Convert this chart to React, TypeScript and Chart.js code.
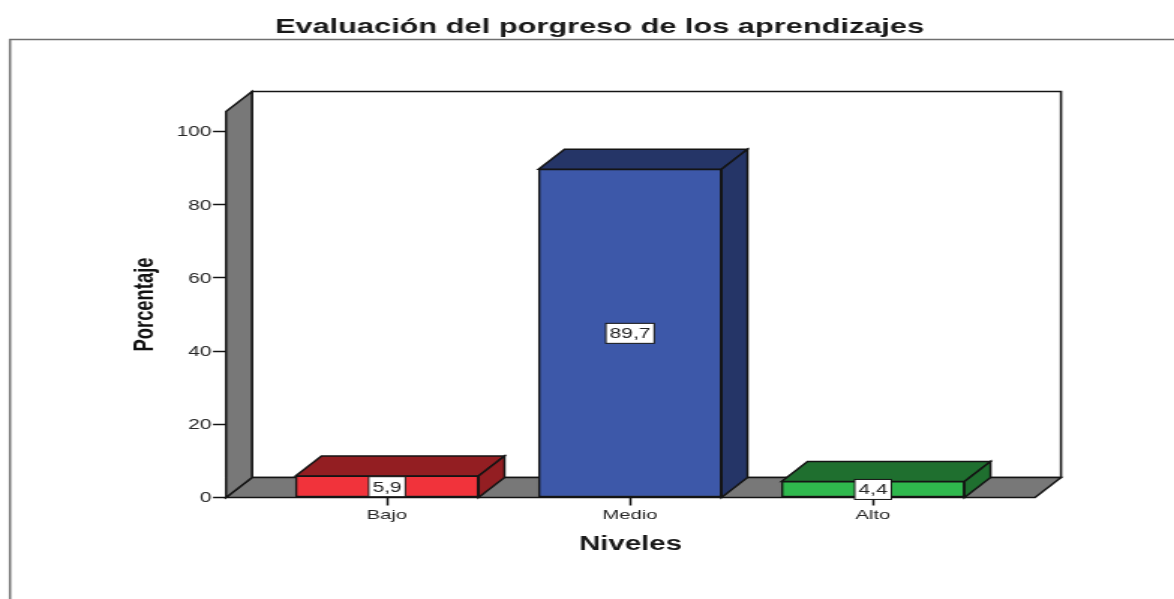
import React, { useEffect, useRef } from "react";
import { Chart, registerables } from "chart.js";

Chart.register(...registerables);

const categories = ["Bajo", "Medio", "Alto"];
const percentages = [5.9, 89.7, 4.4];
const displayLabels = ["5,9", "89,7", "4,4"];
const faceColors = ["#f1333b", "#3d58a9", "#2fb84d"];
const shadeColors = ["#931e22", "#253567", "#1f6f2f"];
const chartTitle = "Evaluación del porgreso de los aprendizajes";
const yTitle = "Porcentaje";
const xTitle = "Niveles";

// The source picture is horizontally stretched: the canvas is drawn narrow and widened by CSS.
const CANVAS_W = 783;
const CANVAS_H = 599;
const STRETCH = 1174 / CANVAS_W;
const px = (v: number) => v / STRETCH;
const DEPTH_X = px(26);
const DEPTH_Y = 20;
const INK = "#141414";
const TEXT = "#262626";
const FONT = "'Liberation Sans', Arial, sans-serif";

const poly = (ctx: CanvasRenderingContext2D, pts: number[][], fill: string, lw = 1.5) => {
  ctx.beginPath();
  pts.forEach(([x, y], i) => (i ? ctx.lineTo(x, y) : ctx.moveTo(x, y)));
  ctx.closePath();
  ctx.fillStyle = fill;
  ctx.fill();
  ctx.lineWidth = lw;
  ctx.strokeStyle = INK;
  ctx.lineJoin = "miter";
  ctx.stroke();
};

const frame3d = {
  id: "frame3d",
  afterLayout(chart: any) {
    const shift = px(82);
    if (chart.titleBlock) {
      chart.titleBlock.left += shift;
      chart.titleBlock.right += shift;
    }
  },
  beforeDraw(chart: any) {
    const ctx = chart.ctx;
    ctx.save();
    ctx.fillStyle = "#ffffff";
    ctx.fillRect(0, 0, chart.width, chart.height);
    ctx.strokeStyle = "#6f6f6f";
    ctx.lineWidth = 1.5;
    ctx.beginPath();
    ctx.moveTo(px(10), CANVAS_H + 2);
    ctx.lineTo(px(10), 39.5);
    ctx.lineTo(CANVAS_W + 2, 39.5);
    ctx.stroke();
    ctx.restore();
  },
  beforeDatasetsDraw(chart: any) {
    const { ctx, chartArea: a } = chart;
    const { left: l, right: r, top: t, bottom: b } = a;
    ctx.save();
    // back wall, floor, side wall
    poly(ctx, [[l + DEPTH_X, t - DEPTH_Y], [r + DEPTH_X, t - DEPTH_Y], [r + DEPTH_X, b - DEPTH_Y], [l + DEPTH_X, b - DEPTH_Y]], "#ffffff");
    poly(ctx, [[l, b], [r, b], [r + DEPTH_X, b - DEPTH_Y], [l + DEPTH_X, b - DEPTH_Y]], "#787878");
    poly(ctx, [[l, t], [l + DEPTH_X, t - DEPTH_Y], [l + DEPTH_X, b - DEPTH_Y], [l, b]], "#787878");
    // top and side faces of each bar
    chart.getDatasetMeta(0).data.forEach((bar: any, i: number) => {
      const hw = bar.width / 2;
      const x0 = bar.x - hw;
      const x1 = bar.x + hw;
      const y0 = bar.y;
      poly(ctx, [[x0, y0], [x1, y0], [x1 + DEPTH_X, y0 - DEPTH_Y], [x0 + DEPTH_X, y0 - DEPTH_Y]], shadeColors[i]);
      poly(ctx, [[x1, y0], [x1 + DEPTH_X, y0 - DEPTH_Y], [x1 + DEPTH_X, b - DEPTH_Y], [x1, b]], shadeColors[i]);
    });
    ctx.restore();
  },
  afterDatasetsDraw(chart: any) {
    const { ctx, chartArea: a } = chart;
    ctx.save();
    ctx.font = `14px ${FONT}`;
    ctx.textAlign = "center";
    ctx.textBaseline = "middle";
    chart.getDatasetMeta(0).data.forEach((bar: any, i: number) => {
      const label = displayLabels[i];
      const w = ctx.measureText(label).width + 5;
      const h = 20;
      const cy = (bar.y + a.bottom) / 2;
      ctx.fillStyle = "#ffffff";
      ctx.fillRect(bar.x - w / 2, cy - h / 2, w, h);
      ctx.strokeStyle = INK;
      ctx.lineWidth = 1;
      ctx.strokeRect(bar.x - w / 2, cy - h / 2, w, h);
      ctx.fillStyle = TEXT;
      ctx.fillText(label, bar.x, cy + 1);
    });
    ctx.restore();
  },
};

export default function App() {
  const ref = useRef<HTMLCanvasElement>(null);
  useEffect(() => {
    if (!ref.current) return;
    const chart = new Chart(ref.current, {
      type: "bar",
      data: {
        datasets: [
          {
            data: percentages.map((y, i) => ({ x: i, y })),
            backgroundColor: faceColors,
            borderColor: INK,
            borderWidth: 1.5,
            borderSkipped: false,
            barThickness: px(183),
          },
        ],
      },
      options: {
        animation: false,
        responsive: false,
        devicePixelRatio: 1,
        layout: { padding: { left: 0, top: 0, right: px(1174 - 1035), bottom: 0 } },
        plugins: {
          legend: { display: false },
          tooltip: { enabled: false },
          title: {
            display: true,
            text: chartTitle,
            color: "#1a1a1a",
            font: { family: FONT, size: 20.5, weight: "bold" },
            padding: { top: 15, bottom: 71.9 },
          },
        },
        scales: {
          x: {
            type: "linear",
            offset: false,
            min: -0.6626,
            max: 2.6667,
            afterFit: (s: any) => {
              s.height = 101.5;
            },
            afterBuildTicks: (s: any) => {
              s.ticks = categories.map((_, i) => ({ value: i }));
            },
            ticks: {
              autoSkip: false,
              maxRotation: 0,
              color: TEXT,
              padding: 1.5,
              font: { family: FONT, size: 13.5 },
              callback: (v: any) => categories[v],
            },
            grid: { offset: false, drawOnChartArea: false, tickLength: 8, tickColor: INK, tickWidth: 1.5 },
            border: { display: false },
            title: {
              display: true,
              text: xTitle,
              color: "#1a1a1a",
              font: { family: FONT, size: 19.6, weight: "bold" },
              padding: { top: 0, bottom: 42.6 },
            },
          },
          y: {
            min: 0,
            max: 105.46,
            afterFit: (s: any) => {
              s.width = px(226);
            },
            ticks: {
              stepSize: 20,
              includeBounds: false,
              color: TEXT,
              padding: 1,
              labelOffset: 1,
              font: { family: FONT, size: 14 },
            },
            grid: { drawOnChartArea: false, tickLength: px(13), tickColor: INK, tickWidth: 1.5 },
            border: { display: false },
            title: {
              display: true,
              text: yTitle,
              color: "#111111",
              font: { family: FONT, size: 18.4, weight: "bold" },
              padding: { top: 86, bottom: 0 },
            },
          },
        },
      },
      plugins: [frame3d],
    } as any);
    return () => chart.destroy();
  }, []);
  return (
    <div style={{ position: "absolute", left: 0, top: 0, width: 1174, height: 599, overflow: "hidden" }}>
      <canvas
        ref={ref}
        width={CANVAS_W}
        height={CANVAS_H}
        style={{ display: "block", transform: `scaleX(${STRETCH})`, transformOrigin: "0 0" }}
      />
    </div>
  );
}
